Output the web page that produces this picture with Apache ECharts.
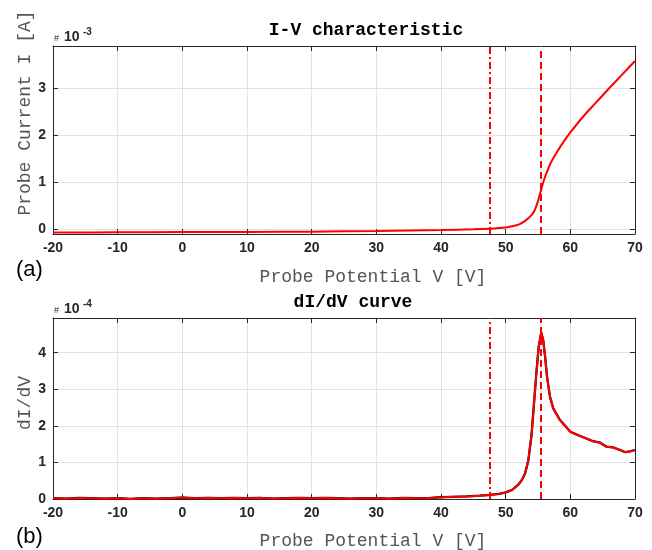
<!DOCTYPE html>
<html>
<head>
<meta charset="utf-8">
<script src="https://cdn.jsdelivr.net/npm/echarts@6/dist/echarts.min.js"></script>
<style>
html,body{margin:0;padding:0;background:#fff;}
#chart{width:652px;height:550px;}
</style>
</head>
<body>
<div id="chart"></div>
<script>
// ---- Data ----
// I-V characteristic: probe potential [V] and probe current [x1e-3 A]
var ivVoltage = [-20,-10,0,10,20,30,40,45,47.5,50,51,52,53,54,54.5,55,55.5,56,56.5,57,58,59,60,62,64,66,68,70];
var ivCurrent = [-0.07,-0.065,-0.06,-0.055,-0.05,-0.035,-0.015,0.0,0.014,0.04,0.065,0.10,0.18,0.30,0.41,0.60,0.85,1.08,1.26,1.42,1.66,1.87,2.06,2.40,2.70,3.00,3.29,3.58];

// dI/dV curve: probe potential [V] and dI/dV [x1e-4]
var dVoltage = [-20,-18,-16,-14,-12,-10,-8,-6,-4,-2,0,2,4,6,8,10,12,14,16,18,20,22,24,26,28,30,32,34,36,38,40,42,44,46,47.5,49,50,51,52,52.5,53,53.5,54,54.3,54.7,55.1,55.5,55.8,56.1,56.4,56.85,57.35,58.4,60,61,62,63.5,64.6,65.6,66.6,67.7,68.5,69.2,70];
var dIdV = [0.02,0.01,0.03,0.02,0.01,0.02,0.00,0.02,0.01,0.02,0.04,0.02,0.03,0.02,0.03,0.02,0.03,0.01,0.02,0.03,0.02,0.03,0.02,0.01,0.02,0.02,0.01,0.03,0.02,0.02,0.05,0.06,0.07,0.09,0.11,0.14,0.18,0.25,0.40,0.52,0.70,1.05,1.75,2.43,3.34,4.16,4.55,4.35,3.89,3.34,2.80,2.48,2.16,1.84,1.76,1.69,1.58,1.54,1.43,1.41,1.34,1.28,1.30,1.34];

// Vertical reference lines [V]: floating potential (dash-dot), plasma potential (dashed)
var floatingPotential = 47.5;
var plasmaPotential = 55.5;

// Tick labels
var xTicks = [-20,-10,0,10,20,30,40,50,60,70];
var ivYTicks = [0,1,2,3];
var dYTicks = [0,1,2,3,4];

// ---- Chart ----
function pairs(xs, ys){ var o=[]; for(var i=0;i<xs.length;i++) o.push([xs[i], ys[i]]); return o; }

var axisColor = '#262626';
var gridColor = '#e3e3e3';
var tickFont = {color: axisColor, fontWeight:'bold', fontSize:14, fontFamily:'Liberation Sans, Arial, sans-serif'};

function mainX(gi){
  return {type:'value', gridIndex:gi, min:-20, max:70, interval:10, position:'bottom',
    axisLine:{show:true, onZero:false, lineStyle:{color:axisColor, width:1}},
    axisTick:{show:true, inside:true, length:5, lineStyle:{color:axisColor}},
    axisLabel:Object.assign({margin:7}, tickFont),
    splitLine:{show:true, lineStyle:{color:gridColor, width:1}}};
}
function topX(gi){
  return {type:'value', gridIndex:gi, min:-20, max:70, interval:10, position:'top',
    axisLine:{show:true, onZero:false, lineStyle:{color:axisColor, width:1}},
    axisTick:{show:true, inside:true, length:5, lineStyle:{color:axisColor}},
    axisLabel:{show:false}, splitLine:{show:false}};
}
function mainY(gi, min, max, ticks){
  return {type:'value', gridIndex:gi, min:min, max:max, position:'left',
    axisLine:{show:true, onZero:false, lineStyle:{color:axisColor, width:1}},
    axisTick:{show:true, inside:true, length:5, customValues:ticks, lineStyle:{color:axisColor}},
    axisLabel:Object.assign({margin:7, customValues:ticks}, tickFont),
    splitLine:{show:true, lineStyle:{color:gridColor, width:1}}};
}
function rightY(gi, min, max, ticks){
  return {type:'value', gridIndex:gi, min:min, max:max, position:'right',
    axisLine:{show:true, onZero:false, lineStyle:{color:axisColor, width:1}},
    axisTick:{show:true, inside:true, length:5, customValues:ticks, lineStyle:{color:axisColor}},
    axisLabel:{show:false}, splitLine:{show:false}};
}

function vLines(){
  return {silent:true, symbol:['none','none'], label:{show:false}, animation:false,
    data:[
      {xAxis: floatingPotential, lineStyle:{color:'#ff0000', width:2, type:[7,3,2,3]}},
      {xAxis: plasmaPotential, lineStyle:{color:'#ff0000', width:2, type:[7,4]}}
    ]};
}

var monoFont = 'Liberation Mono, Courier New, monospace';

var option = {
  animation:false,
  backgroundColor:'#ffffff',
  grid:[
    {left:53, top:46, width:582, height:188},
    {left:53, top:318, width:582, height:181}
  ],
  xAxis:[mainX(0), topX(0), mainX(1), topX(1)],
  yAxis:[mainY(0,-0.1,3.9,ivYTicks), rightY(0,-0.1,3.9,ivYTicks), mainY(1,0,4.95,dYTicks), rightY(1,0,4.95,dYTicks)],
  series:[
    {type:'line', xAxisIndex:0, yAxisIndex:0, data:pairs(ivVoltage, ivCurrent), showSymbol:false, smooth:0.3,
     lineStyle:{color:'#ff0000', width:2}, markLine:vLines()},
    {type:'line', xAxisIndex:2, yAxisIndex:2, data:pairs(dVoltage, dIdV), showSymbol:false,
     lineStyle:{color:'#000000', width:2.3}},
    {type:'line', xAxisIndex:2, yAxisIndex:2, data:pairs(dVoltage, dIdV), showSymbol:false,
     lineStyle:{color:'#ff0000', width:2}, markLine:vLines()}
  ],
  graphic:[
    {type:'text', x:366, y:30, style:{text:'I-V characteristic', font:'bold 18px '+monoFont, fill:'#000', align:'center', verticalAlign:'middle'}},
    {type:'text', x:353, y:302, style:{text:'dI/dV curve', font:'bold 18px '+monoFont, fill:'#000', align:'center', verticalAlign:'middle'}},
    {type:'text', x:373, y:277, style:{text:'Probe Potential V [V]', font:'18px '+monoFont, fill:'#555555', align:'center', verticalAlign:'middle'}},
    {type:'text', x:373, y:541, style:{text:'Probe Potential V [V]', font:'18px '+monoFont, fill:'#555555', align:'center', verticalAlign:'middle'}},
    {type:'text', x:25, y:113, rotation:Math.PI/2, style:{text:'Probe Current I [A]', font:'18px '+monoFont, fill:'#555555', align:'center', verticalAlign:'middle'}},
    {type:'text', x:25, y:403, rotation:Math.PI/2, style:{text:'dI/dV', font:'18px '+monoFont, fill:'#555555', align:'center', verticalAlign:'middle'}},
    {type:'text', x:16, y:270, style:{text:'(a)', font:'22px Liberation Sans, Arial, sans-serif', fill:'#000', align:'left', verticalAlign:'middle'}},
    {type:'text', x:16, y:537, style:{text:'(b)', font:'22px Liberation Sans, Arial, sans-serif', fill:'#000', align:'left', verticalAlign:'middle'}},
    {type:'text', x:54, y:43, style:{text:'#', font:'9px Liberation Sans, Arial, sans-serif', fill:'#262626', align:'left', verticalAlign:'bottom'}},
    {type:'text', x:64, y:44, style:{text:'10', font:'bold 14px Liberation Sans, Arial, sans-serif', fill:'#262626', align:'left', verticalAlign:'bottom'}},
    {type:'text', x:83, y:37, style:{text:'-3', font:'bold 10px Liberation Sans, Arial, sans-serif', fill:'#262626', align:'left', verticalAlign:'bottom'}},
    {type:'text', x:54, y:315, style:{text:'#', font:'9px Liberation Sans, Arial, sans-serif', fill:'#262626', align:'left', verticalAlign:'bottom'}},
    {type:'text', x:64, y:316, style:{text:'10', font:'bold 14px Liberation Sans, Arial, sans-serif', fill:'#262626', align:'left', verticalAlign:'bottom'}},
    {type:'text', x:83, y:309, style:{text:'-4', font:'bold 10px Liberation Sans, Arial, sans-serif', fill:'#262626', align:'left', verticalAlign:'bottom'}}
  ]
};

var chart = echarts.init(document.getElementById('chart'), null, {renderer:'canvas'});
chart.setOption(option);
</script>
</body>
</html>
